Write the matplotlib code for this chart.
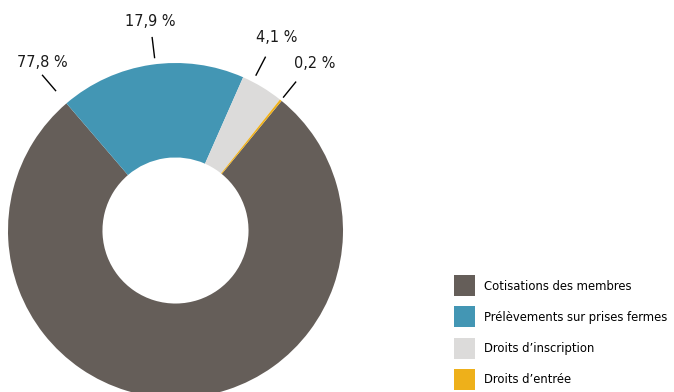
import matplotlib
matplotlib.use("Agg")
import numpy as np
import matplotlib.pyplot as plt

plt.rcParams['font.family'] = ['DejaVu Sans']
plt.rcParams['font.stretch'] = 'condensed'

# data
categories = ["Cotisations des membres", "Prélèvements sur prises fermes",
              "Droits d\u2019inscription", "Droits d\u2019entrée"]
shares = [77.8, 17.9, 4.1, 0.2]
pct_labels = ["77,8 %", "17,9 %", "4,1 %", "0,2 %"]
colors = ["#655e59", "#4396b4", "#dcdbda", "#eeb01a"]

W, H = 674, 392
fig = plt.figure(figsize=(W / 100, H / 100), dpi=100)

# pie axes placed in pixels (bottom of the ring runs off the figure)
ax = fig.add_axes([8 / W, -6 / H, 335 / W, 335 / H])
wedges, _ = ax.pie(shares, colors=colors, startangle=50.7, counterclock=False,
                   radius=1.0, wedgeprops=dict(width=0.564, linewidth=0))
ax.set_xlim(-1, 1)
ax.set_ylim(-1, 1)
ax.set_aspect('equal')
ax.axis('off')

# leader lines + labels (angle in degrees, radii relative to outer ring)
line_ang = [130.6, 96.9, 62.6, 51.0]
line_r0 = [1.10, 1.04, 1.045, 1.025]
line_r1 = [1.22, 1.16, 1.165, 1.14]
text_ang = [128.4, 97.0, 62.4, 50.2]
text_r = [1.28, 1.255, 1.30, 1.30]
for i in range(len(shares)):
    a = np.deg2rad(line_ang[i])
    ax.plot([line_r0[i] * np.cos(a), line_r1[i] * np.cos(a)],
            [line_r0[i] * np.sin(a), line_r1[i] * np.sin(a)],
            color='black', lw=1.0, clip_on=False)
    t = np.deg2rad(text_ang[i])
    ax.text(text_r[i] * np.cos(t), text_r[i] * np.sin(t), pct_labels[i],
            ha='center', va='center', fontsize=11.6, color='#1a1a1a', clip_on=False)

fig.legend(wedges, categories, loc='upper left',
           bbox_to_anchor=(454 / W, 1 - 275 / H), frameon=False,
           fontsize=9.3, handlelength=1.62, handleheight=2.12, handletextpad=0.7,
           labelspacing=0.8, borderpad=0, borderaxespad=0)

fig.savefig("out.png", dpi=100)
